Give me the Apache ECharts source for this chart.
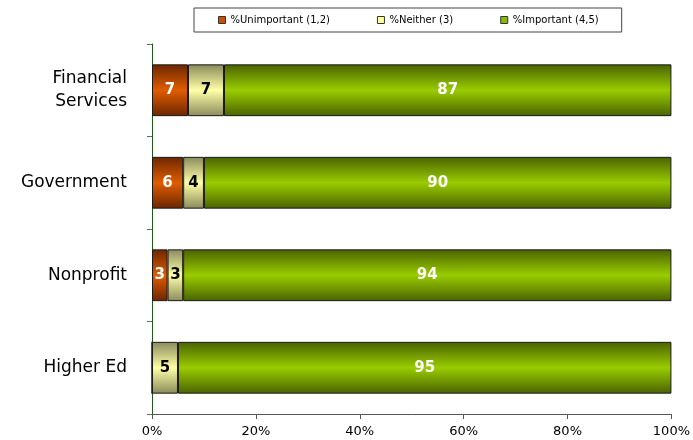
<!DOCTYPE html>
<html>
<head>
<meta charset="utf-8">
<script src="https://cdn.jsdelivr.net/npm/echarts@6/dist/echarts.min.js"></script>
<style>
  html, body { margin: 0; padding: 0; background: #fff; }
  #chart { width: 693px; height: 440px; }
</style>
</head>
<body>
<div id="chart"></div>
<script>
// Survey responses by sector (top to bottom as listed)
const categories = ['Financial\nServices', 'Government', 'Nonprofit', 'Higher Ed'];
const seriesNames = ['%Unimportant (1,2)', '%Neither (3)', '%Important (4,5)'];
const unimportant = [7, 6, 3, 0];
const neither = [7, 4, 3, 5];
const important = [87, 90, 94, 95];
const xTickLabels = ['0%', '20%', '40%', '60%', '80%', '100%'];

const raw = [unimportant, neither, important];
const totals = categories.map((_, i) => raw.reduce((s, arr) => s + arr[i], 0));

// Bar shading: dark edges, bright middle
function shade(edge, mid) {
  return new echarts.graphic.LinearGradient(0, 0, 0, 1, [
    { offset: 0, color: edge },
    { offset: 0.5, color: mid },
    { offset: 1, color: edge }
  ]);
}
const palettes = [
  { edge: '#6a2600', mid: '#e05c00', solid: '#cc4f00', label: '#ffffff' },
  { edge: '#8a8a5c', mid: '#ffffa6', solid: '#ffff99', label: '#000000' },
  { edge: '#4a6200', mid: '#99cc00', solid: '#88bb00', label: '#ffffff' }
];

const series = raw.map((arr, s) => ({
  name: seriesNames[s],
  type: 'bar',
  stack: 'total',
  barCategoryGap: '44%',
  // share of each row total, so every bar spans 0-100%
  data: arr.map((v, i) => ({ value: v / totals[i] * 100, raw: v })),
  itemStyle: {
    color: shade(palettes[s].edge, palettes[s].mid),
    borderColor: '#1a1a1a',
    borderWidth: 1
  },
  label: {
    show: true,
    position: 'inside',
    color: palettes[s].label,
    fontFamily: 'DejaVu Sans',
    fontWeight: 'bold',
    fontSize: 15,
    formatter: p => (p.data.raw > 0 ? String(p.data.raw) : '')
  }
}));

const chart = echarts.init(document.getElementById('chart'), null, { renderer: 'canvas' });
chart.setOption({
  animation: false,
  backgroundColor: '#ffffff',
  legend: {
    left: 194,
    top: 8,
    padding: [7, 23, 7, 24],
    itemGap: 47,
    itemWidth: 7,
    itemHeight: 7,
    borderColor: '#444444',
    borderWidth: 1,
    textStyle: { fontFamily: 'DejaVu Sans', fontSize: 10, color: '#000' },
    data: seriesNames.map((n, s) => ({
      name: n,
      icon: 'rect',
      itemStyle: { color: palettes[s].solid, borderColor: '#333', borderWidth: 1 }
    }))
  },
  grid: { left: 152, right: 20, top: 44, bottom: 26, containLabel: false },
  xAxis: {
    type: 'value',
    min: 0,
    max: 100,
    interval: 20,
    axisLine: { show: true, lineStyle: { color: '#555555', width: 1 } },
    axisTick: { show: true, length: 5, lineStyle: { color: '#555555' } },
    splitLine: { show: false },
    axisLabel: {
      margin: 11,
      fontFamily: 'DejaVu Sans',
      fontSize: 13,
      color: '#000',
      formatter: v => xTickLabels[v / 20]
    }
  },
  yAxis: {
    type: 'category',
    inverse: true,
    data: categories,
    axisLine: { show: true, lineStyle: { color: '#1f5a1f', width: 1 } },
    axisTick: { show: true, length: 5, lineStyle: { color: '#666666' } },
    axisLabel: {
      margin: 25,
      fontFamily: 'DejaVu Sans',
      fontSize: 17,
      lineHeight: 23,
      color: '#000',
      align: 'right'
    }
  },
  series: series
});
</script>
</body>
</html>
